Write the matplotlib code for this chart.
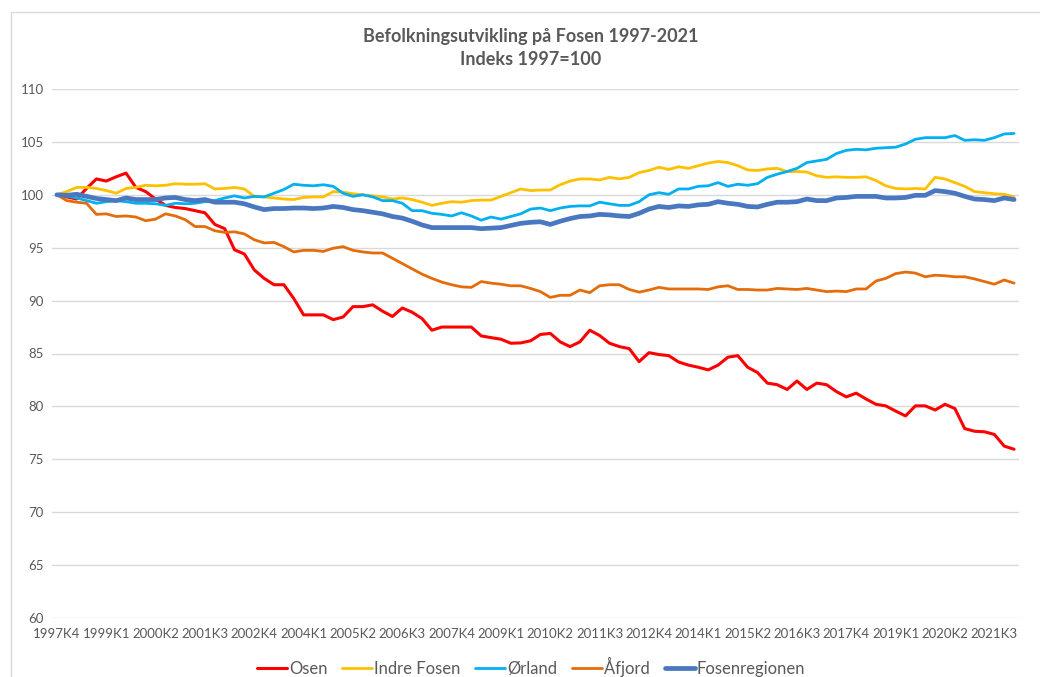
import matplotlib
matplotlib.use("Agg")
import matplotlib.pyplot as plt
from matplotlib.patches import Rectangle

# ---- data ----
start_year, start_q, n_points = 1997, 4, 98
periods = []
y, q = start_year, start_q
for _ in range(n_points):
    periods.append(f"{y}K{q}")
    q += 1
    if q > 4:
        q = 1
        y += 1

osen = [100, 99.8, 99.6, 100.6, 101.5, 101.3, 101.7, 102.05, 100.7, 100.3,
        99.6, 99.0, 98.8, 98.7, 98.5, 98.3, 97.2, 96.8, 94.8, 94.4,
        92.9, 92.1, 91.5, 91.5, 90.2, 88.65, 88.65, 88.65, 88.2, 88.45,
        89.43, 89.43, 89.6, 89.0, 88.5, 89.3, 88.9, 88.3, 87.2, 87.5,
        87.5, 87.5, 87.5, 86.66, 86.5, 86.35, 85.97, 86.0, 86.2, 86.8,
        86.9, 86.1, 85.65, 86.1, 87.2, 86.7, 85.97, 85.65, 85.46, 84.23,
        85.08, 84.9, 84.8, 84.2, 83.9, 83.7, 83.45, 83.9, 84.65, 84.8,
        83.7, 83.2, 82.2, 82.05, 81.6, 82.4, 81.6, 82.2, 82.05, 81.4,
        80.9, 81.25, 80.7, 80.2, 80.05, 79.56, 79.1, 80.05, 80.05, 79.66,
        80.2, 79.8, 77.9, 77.65, 77.6, 77.35, 76.25, 75.95]

indre_fosen = [100, 100.3, 100.7, 100.7, 100.6, 100.4, 100.15, 100.6, 100.7, 100.9,
               100.85, 100.9, 101.05, 101.0, 101.0, 101.05, 100.55, 100.6, 100.7, 100.55,
               99.85, 99.8, 99.7, 99.6, 99.55, 99.75, 99.8, 99.8, 100.3, 100.25,
               100.1, 100.0, 99.9, 99.8, 99.6, 99.7, 99.55, 99.3, 99.0, 99.2,
               99.35, 99.3, 99.45, 99.5, 99.5, 99.85, 100.2, 100.55, 100.4, 100.45,
               100.45, 100.95, 101.3, 101.5, 101.5, 101.4, 101.65, 101.5, 101.65, 102.1,
               102.3, 102.6, 102.4, 102.65, 102.5, 102.75, 103.0, 103.15, 103.05, 102.75,
               102.35, 102.3, 102.45, 102.5, 102.2, 102.2, 102.15, 101.8, 101.65, 101.7,
               101.65, 101.65, 101.7, 101.35, 100.85, 100.6, 100.55, 100.6, 100.55, 101.65,
               101.5, 101.15, 100.8, 100.3, 100.2, 100.1, 100.05, 99.8]

orland = [100, 99.9, 99.7, 99.45, 99.2, 99.35, 99.45, 99.35, 99.2, 99.2,
          99.15, 99.0, 99.2, 99.15, 99.2, 99.35, 99.45, 99.7, 99.9, 99.7,
          99.85, 99.8, 100.15, 100.5, 101.0, 100.9, 100.85, 100.95, 100.8, 100.15,
          99.85, 100.0, 99.8, 99.45, 99.45, 99.2, 98.5, 98.5, 98.25, 98.15,
          98.0, 98.3, 98.0, 97.6, 97.9, 97.7, 97.95, 98.2, 98.65, 98.75,
          98.5, 98.75, 98.9, 98.95, 98.95, 99.3, 99.15, 99.0, 99.0, 99.35,
          100.0, 100.2, 100.05, 100.55, 100.55, 100.8, 100.85, 101.15, 100.8, 101.0,
          100.9, 101.05, 101.65, 101.95, 102.2, 102.5, 103.05, 103.2, 103.35, 103.9,
          104.2, 104.3, 104.25, 104.4, 104.45, 104.5, 104.8, 105.25, 105.4, 105.4,
          105.4, 105.6, 105.15, 105.2, 105.15, 105.4, 105.75, 105.8]

afjord = [100, 99.45, 99.3, 99.2, 98.15, 98.2, 97.95, 98.0, 97.9, 97.55,
          97.7, 98.2, 98.0, 97.65, 97.0, 97.0, 96.6, 96.45, 96.5, 96.3,
          95.75, 95.45, 95.5, 95.1, 94.6, 94.75, 94.75, 94.65, 94.95, 95.1,
          94.75, 94.6, 94.5, 94.5, 94.0, 93.5, 93.0, 92.5, 92.1, 91.75,
          91.5, 91.3, 91.25, 91.8, 91.65, 91.55, 91.4, 91.4, 91.15, 90.85,
          90.3, 90.5, 90.5, 91.0, 90.75, 91.4, 91.5, 91.5, 91.05, 90.8,
          91.0, 91.25, 91.1, 91.1, 91.1, 91.1, 91.05, 91.3, 91.4, 91.05,
          91.05, 91.0, 91.0, 91.15, 91.1, 91.05, 91.15, 91.0, 90.85, 90.9,
          90.85, 91.1, 91.1, 91.85, 92.1, 92.55, 92.7, 92.6, 92.25, 92.4,
          92.35, 92.25, 92.25, 92.05, 91.8, 91.55, 91.95, 91.65]

fosenregionen = [100, 99.95, 100.05, 99.85, 99.65, 99.55, 99.45, 99.7, 99.55, 99.55,
                 99.55, 99.7, 99.75, 99.55, 99.45, 99.55, 99.3, 99.3, 99.3, 99.15,
                 98.85, 98.6, 98.7, 98.7, 98.75, 98.75, 98.7, 98.75, 98.9, 98.8,
                 98.6, 98.5, 98.35, 98.2, 97.95, 97.8, 97.5, 97.15, 96.9, 96.9,
                 96.9, 96.9, 96.9, 96.8, 96.85, 96.9, 97.1, 97.3, 97.4, 97.45,
                 97.2, 97.5, 97.75, 97.95, 98.0, 98.15, 98.1, 98.0, 97.95, 98.25,
                 98.65, 98.9, 98.8, 98.95, 98.9, 99.05, 99.1, 99.35, 99.2, 99.1,
                 98.9, 98.85, 99.1, 99.3, 99.3, 99.35, 99.6, 99.45, 99.45, 99.7,
                 99.75, 99.85, 99.85, 99.85, 99.7, 99.7, 99.75, 99.95, 99.95, 100.4,
                 100.3, 100.15, 99.85, 99.6, 99.55, 99.45, 99.7, 99.55]

series_names = ["Osen", "Indre Fosen", "Ørland", "Åfjord", "Fosenregionen"]
series_colors = ["#FF0000", "#FFC000", "#00B0F0", "#E46C0A", "#4A78C0"]
series_widths = [2.2, 2.0, 2.0, 2.0, 3.4]

title_text = "Befolkningsutvikling på Fosen 1997-2021\nIndeks 1997=100"
yticks = [60, 65, 70, 75, 80, 85, 90, 95, 100, 105, 110]
label_step = 5

# ---- plot ----
plt.rcParams['font.family'] = ['Lato', 'DejaVu Sans']
fig = plt.figure(figsize=(10.4, 6.77), dpi=100)
fig.patches.append(Rectangle((11 / 1040, -0.1), 1.2, 1 - 12 / 677 + 0.1,
                             transform=fig.transFigure, fill=False,
                             edgecolor="#D9D9D9", linewidth=1.0))
ax = fig.add_axes([52 / 1040, 1 - 618 / 677, 967 / 1040, (618 - 89) / 677])

xs = list(range(n_points))
for data, name, color, lw in zip([osen, indre_fosen, orland, afjord, fosenregionen],
                                 series_names, series_colors, series_widths):
    ax.plot(xs, data, color=color, linewidth=lw, label=name,
            solid_joinstyle="round", solid_capstyle="round")

ax.set_xlim(-0.5, n_points - 0.5)
ax.set_ylim(60, 110)
ax.set_yticks(yticks)
ax.set_yticklabels([str(v) for v in yticks])
ax.set_xticks(xs[::label_step])
ax.set_xticklabels(periods[::label_step])
ax.grid(axis="y", color="#D9D9D9", linewidth=1.0)
ax.set_axisbelow(True)
for s in ax.spines.values():
    s.set_visible(False)
ax.tick_params(axis="both", length=0, colors="#595959", labelsize=9.5)
ax.tick_params(axis="y", pad=6)
ax.tick_params(axis="x", pad=7)

fig.text(531 / 1040, 1 - 48 / 677, title_text, ha="center", va="center",
         fontsize=13, fontweight="bold", color="#595959", linespacing=1.4)

leg = fig.legend(loc="center", bbox_to_anchor=(531 / 1040, 1 - 667 / 677), ncol=5,
                 frameon=False, fontsize=12, handlelength=1.8, handletextpad=0.1,
                 columnspacing=0.9, labelcolor="#595959")

fig.savefig("out.png", dpi=100)
